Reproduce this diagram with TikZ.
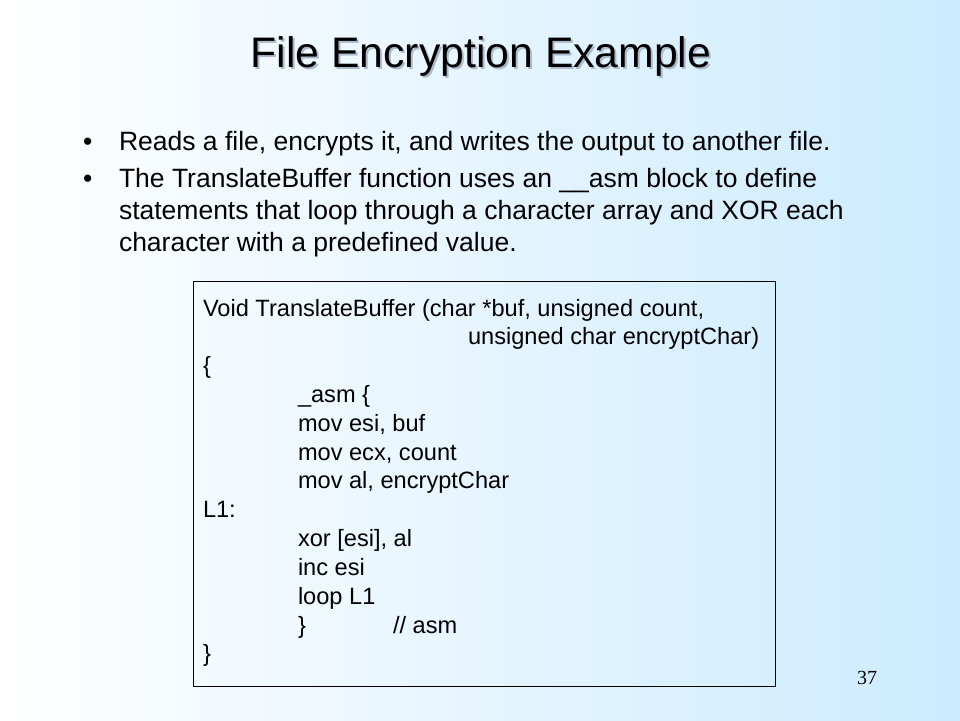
\documentclass[tikz,border=0pt]{standalone}
\usepackage{fontspec}
\setmainfont{Liberation Sans}
\newfontfamily\numfont{Liberation Serif}
\definecolor{bgblue}{RGB}{204,235,255}
\definecolor{shadowc}{RGB}{172,186,204}
\begin{document}
\begin{tikzpicture}[x=1pt,y=-1pt,
  txt/.style={inner sep=0pt, outer sep=0pt, anchor=base west},
  titlef/.style={inner sep=0pt, anchor=base, font=\fontsize{42.7}{50}\selectfont},
  bul/.style={txt, font=\fontsize{26.5}{32}\selectfont},
  code/.style={txt, font=\fontsize{23.6}{28}\selectfont}]
\useasboundingbox (0,0) rectangle (960,720);
\shade[left color=white, right color=bgblue] (0,0) rectangle (960,720);
% title
\node[titlef, text=shadowc] (tshadow) at (483,69) {File Encryption Example};
\node[titlef] (title) at (481,67) {File Encryption Example};
% bullets
\node[bul] (d1) at (83,150) {•};
\node[bul] (b1) at (119,150) {Reads a file, encrypts it, and writes the output to another file.};
\node[bul] (d2) at (83,187) {•};
\node[bul] (b2a) at (119,187) {The TranslateBuffer function uses an \_\_asm block to define};
\node[bul] (b2b) at (119,219) {statements that loop through a character array and XOR each};
\node[bul] (b2c) at (119,251) {character with a predefined value.};
% code box
\node[draw=black, line width=0.9pt, minimum width=582, minimum height=405,
      anchor=north west, inner sep=0pt] (box) at (192.5,280.5) {};
\def\lh{28.83}
\node[code] (c1) at (203,316) {Void TranslateBuffer (char *buf, unsigned count,};
\node[code] (c2) at (468,316+\lh) {unsigned char encryptChar)};
\node[code] (c3) at (203,316+2*\lh) {\{};
\node[code] (c4) at (298,316+3*\lh) {\_asm \{};
\node[code] (c5) at (298,316+4*\lh) {mov esi, buf};
\node[code] (c6) at (298,316+5*\lh) {mov ecx, count};
\node[code] (c7) at (298,316+6*\lh) {mov al, encryptChar};
\node[code] (c8) at (203,316+7*\lh) {L1:};
\node[code] (c9) at (298,316+8*\lh) {xor [esi], al};
\node[code] (c10) at (298,316+9*\lh) {inc esi};
\node[code] (c11) at (298,316+10*\lh) {loop L1};
\node[code] (c12) at (298,316+11*\lh) {\}};
\node[code] (c12b) at (393,316+11*\lh) {// asm};
\node[code] (c13) at (203,316+12*\lh) {\}};
% slide number
\node[txt, font=\numfont\fontsize{20}{24}\selectfont] (num) at (857,684) {37};
\end{tikzpicture}
\end{document}
